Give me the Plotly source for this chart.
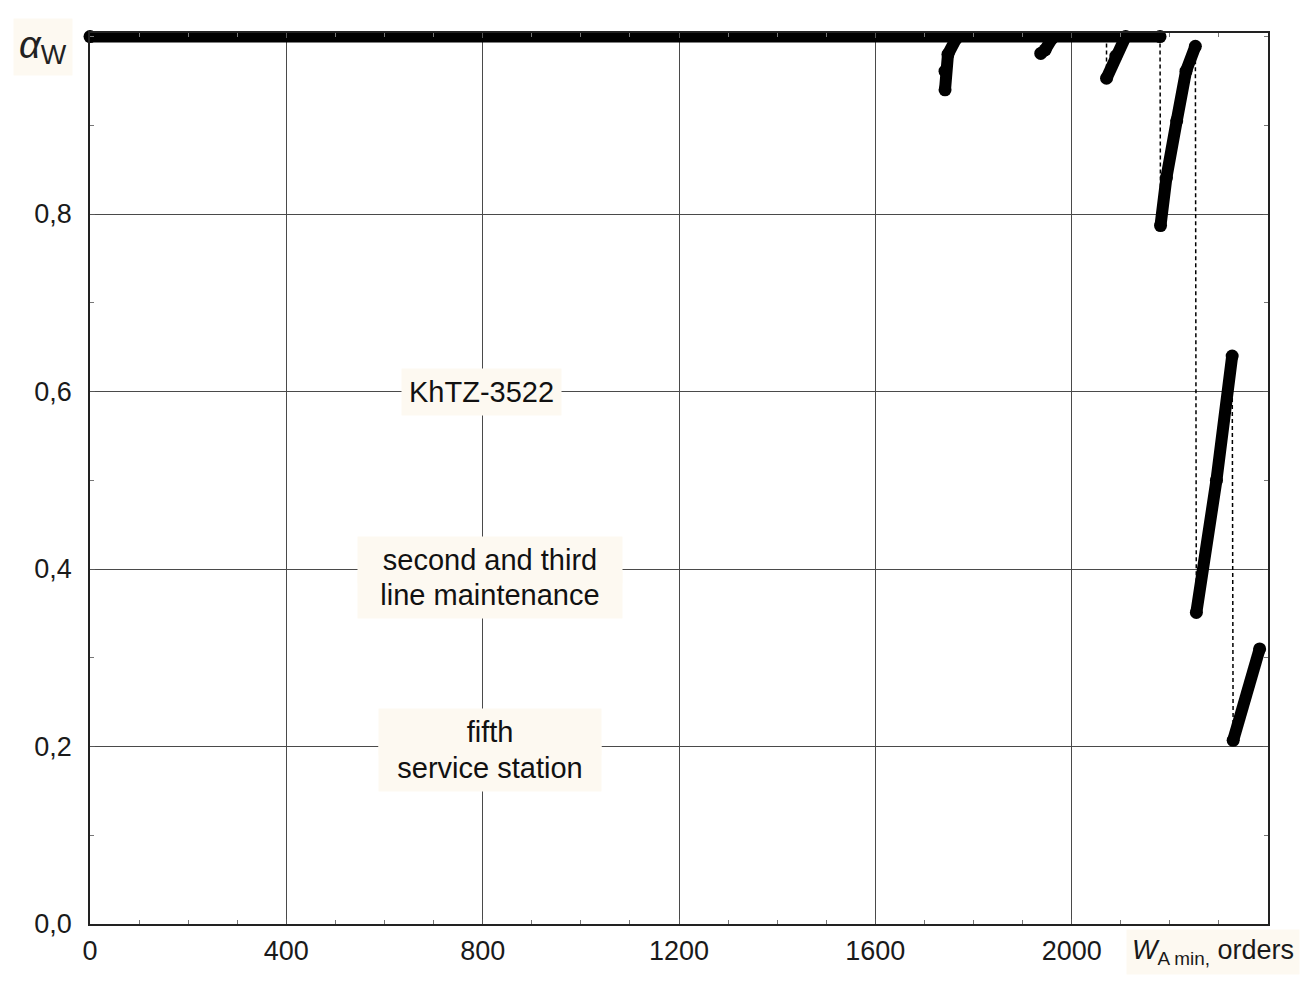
import plotly.graph_objects as go

# ---- data ----
plateau_x = [0, 2180]
plateau_y = [1.0, 1.0]

dip1_x = [1742, 1742, 1748, 1765]
dip1_y = [0.940, 0.961, 0.980, 0.998]

dip2_x = [1937, 1946, 1960]
dip2_y = [0.981, 0.985, 0.998]

dip3_x = [2071, 2090, 2110]
dip3_y = [0.953, 0.978, 1.0]

seg4_x = [2181, 2193, 2214, 2233, 2252]
seg4_y = [0.787, 0.841, 0.905, 0.961, 0.989]

seg5_x = [2254, 2295, 2327]
seg5_y = [0.351, 0.500, 0.640]

seg6_x = [2329, 2383]
seg6_y = [0.207, 0.310]

x_tickvals = [0, 400, 800, 1200, 1600, 2000]
x_ticktext = ["0", "400", "800", "1200", "1600", "2000"]
y_tickvals = [0.0, 0.2, 0.4, 0.6, 0.8]
y_ticktext = ["0,0", "0,2", "0,4", "0,6", "0,8"]

# text lines (text, x, y, box width)
label_lines = [
    ("KhTZ-3522", 798, 0.599, None),
    ("second and third", 815, 0.410, 250),
    ("line maintenance", 815, 0.371, 250),
    ("fifth", 815, 0.216, 208),
    ("service station", 815, 0.176, 208),
]

FONT = "Liberation Sans, Arial, sans-serif"
BG = "#fdf9f1"

fig = go.Figure()

# dashed jumps between consecutive pieces
jump_x = [dip3_x[0], dip3_x[0], None,
          plateau_x[-1], seg4_x[0], None,
          seg4_x[-1], seg5_x[0], None,
          seg5_x[-1], seg6_x[0]]
jump_y = [plateau_y[-1], dip3_y[0], None,
          plateau_y[-1], seg4_y[0], None,
          seg4_y[-1], seg5_y[0], None,
          seg5_y[-1], seg6_y[0]]
fig.add_trace(go.Scatter(x=jump_x, y=jump_y, mode="lines",
                         line=dict(color="black", width=1.5, dash="4px,3px"),
                         hoverinfo="skip", showlegend=False, cliponaxis=False))

for sx, sy in [(plateau_x, plateau_y), (dip1_x, dip1_y), (dip2_x, dip2_y),
               (dip3_x, dip3_y), (seg4_x, seg4_y), (seg5_x, seg5_y),
               (seg6_x, seg6_y)]:
    fig.add_trace(go.Scatter(x=sx, y=sy, mode="lines+markers",
                             line=dict(color="black", width=12),
                             marker=dict(symbol="circle", size=13, color="black"),
                             hoverinfo="skip", showlegend=False, cliponaxis=False))

for text, x, y, w in label_lines:
    fig.add_annotation(x=x, y=y, xref="x", yref="y", text=text, showarrow=False,
                       font=dict(family=FONT, size=29, color="#111"),
                       bgcolor=BG, borderpad=7, align="center", width=w)

fig.add_annotation(x=0, y=1.0, xref="paper", yref="y", xanchor="right", yanchor="middle",
                   xshift=-17, yshift=-10,
                   text="<span style='font-size:38px'><i>α</i></span>"
                        "<sub><span style='font-size:27px'>W</span></sub>",
                   showarrow=False,
                   font=dict(family=FONT, size=29, color="#222"),
                   bgcolor=BG, borderpad=5)

fig.add_annotation(x=0.953, y=-0.031, xref="paper", yref="paper",
                   xanchor="center", yanchor="middle",
                   text="<i>W</i><sub>A min,</sub> orders", showarrow=False,
                   font=dict(family=FONT, size=27, color="#1a1a1a"),
                   bgcolor=BG, borderpad=5)

axis_common = dict(showline=True, linecolor="#222", linewidth=1.5, mirror="ticks",
                   showgrid=True, gridcolor="#4a4a4a", gridwidth=1,
                   zeroline=False, ticks="inside", ticklen=5, tickcolor="#555",
                   tickfont=dict(family=FONT, size=27, color="#1a1a1a"))

fig.update_xaxes(range=[0, 2400], tickmode="array", tickvals=x_tickvals,
                 ticktext=x_ticktext, ticklabelstandoff=2,
                 minor=dict(dtick=100, ticks="inside", ticklen=4, tickcolor="#777",
                            showgrid=False),
                 **axis_common)
fig.update_yaxes(range=[0, 1.004], tickmode="array", tickvals=y_tickvals,
                 ticktext=y_ticktext, ticklabelstandoff=11,
                 minor=dict(dtick=0.1, ticks="inside", ticklen=4, tickcolor="#777",
                            showgrid=False),
                 **axis_common)

# page body has an 8px margin: compensate so plot area sits at x 90-1268, y 33-924
fig.update_layout(width=1297, height=969,
                  margin=dict(l=82, r=37, t=25, b=53),
                  plot_bgcolor="white", paper_bgcolor="white",
                  font=dict(family=FONT))

fig.write_html("out.html")
